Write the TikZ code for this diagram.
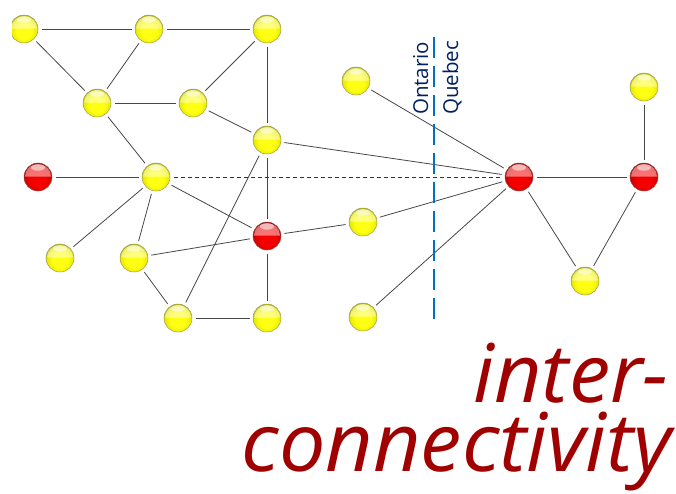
\documentclass[tikz,border=0pt]{standalone}
\usepackage{fontspec}
\setmainfont{Open Sans}
\definecolor{ydk}{RGB}{170,170,0}
\definecolor{ymid}{RGB}{235,235,0}
\definecolor{ybr}{RGB}{255,255,20}
\definecolor{ybord}{RGB}{160,160,90}
\definecolor{rdk}{RGB}{145,0,0}
\definecolor{rmid}{RGB}{212,0,0}
\definecolor{rbr}{RGB}{245,0,0}
\definecolor{rbord}{RGB}{150,80,80}
\definecolor{borderblue}{RGB}{0,112,192}
\definecolor{navy}{RGB}{0,32,96}
\definecolor{dred}{RGB}{160,0,0}
\pgfdeclareradialshading{yballsh}{\pgfpoint{0bp}{-5bp}}{color(0bp)=(ybr);color(14bp)=(ybr);color(23bp)=(ymid);color(28bp)=(ydk);color(50bp)=(ydk)}
\pgfdeclareradialshading{rballsh}{\pgfpoint{0bp}{-5bp}}{color(0bp)=(rbr);color(14bp)=(rbr);color(23bp)=(rmid);color(28bp)=(rdk);color(50bp)=(rdk)}
\tikzset{
  gloss/.style={path picture={
    \begin{scope}[x=1pt,y=1pt,shift={(path picture bounding box.center)}]
      \fill[white, fill opacity=0.45] (-13,0.5) arc[start angle=180, end angle=0, x radius=13, y radius=12.5] -- cycle;
      \fill[white, fill opacity=0.5] (0,9.5) ellipse[x radius=7, y radius=3.2];
    \end{scope}}},
  ball/.style={circle, minimum size=28pt, inner sep=0pt, line width=0.5pt, outer sep=3.5pt, gloss},
  yball/.style={ball, shading=yballsh, draw=ybord},
  rball/.style={ball, shading=rballsh, draw=rbord},
  conn/.style={draw=black!72, line width=0.8pt},
  dconn/.style={draw=black!80, line width=0.8pt, dash pattern=on 4pt off 3pt},
  border/.style={draw=borderblue, line width=2.4pt, dash pattern=on 21pt off 8pt},
  prov/.style={text=navy, font=\fontsize{20.5}{20.5}\selectfont, rotate=90, anchor=base west, inner sep=0pt},
  bigtext/.style={text=dred, font=\fontsize{81}{81}\selectfont\itshape, anchor=base east, inner sep=0pt, xscale=1.02}
}
\begin{document}
\begin{tikzpicture}[x=1pt,y=-1pt]
\useasboundingbox (0,0) rectangle (676,493);
\begin{scope}
\clip (12,0) rectangle (676,493);
\node[yball] (A) at (24,29) {};
\node[yball] (B) at (149,29) {};
\node[yball] (C) at (267,29) {};
\node[yball] (D) at (97,103) {};
\node[yball] (E) at (193,103) {};
\node[yball] (F) at (267,140) {};
\node[rball] (G) at (38,177) {};
\node[yball] (H) at (156,177) {};
\node[yball] (I) at (60,258) {};
\node[yball] (J) at (134,258) {};
\node[rball] (K) at (267,236) {};
\node[yball] (L) at (178,318) {};
\node[yball] (M) at (267,318) {};
\node[yball] (N) at (356,81) {};
\node[yball] (O) at (363,222) {};
\node[yball] (P) at (363,317) {};
\node[rball] (Q) at (519,177) {};
\node[rball] (R) at (644,177) {};
\node[yball] (S) at (644,87) {};
\node[yball] (T) at (585,281) {};
\end{scope}
\path[conn] (A) -- (B);
\path[conn] (B) -- (C);
\path[conn] (A) -- (D);
\path[conn] (B) -- (D);
\path[conn] (D) -- (E);
\path[conn] (C) -- (E);
\path[conn] (E) -- (F);
\path[conn] (C) -- (F);
\path[conn] (D) -- (H);
\path[conn] (G) -- (H);
\path[dconn] (H) -- (Q);
\path[conn] (H) -- (I);
\path[conn] (H) -- (J);
\path[conn] (H) -- (K);
\path[conn] (F) -- (Q);
\path[conn] (F) -- (K);
\path[conn] (F) -- (L);
\path[conn] (J) -- (K);
\path[conn] (J) -- (L);
\path[conn] (L) -- (M);
\path[conn] (K) -- (M);
\path[conn] (K) -- (O);
\path[conn] (O) -- (Q);
\path[conn] (N) -- (Q);
\path[conn] (P) -- (Q);
\path[conn] (Q) -- (R);
\path[conn] (R) -- (S);
\path[conn] (Q) -- (T);
\path[conn] (R) -- (T);
\coordinate (bt) at (434,37);
\coordinate (bb) at (434,323);
\path[border] (bt) -- (bb);
\node[prov] (ont) at (428,115) {Ontario};
\node[prov] (que) at (458,115) {Quebec};
\node[bigtext] (t1) at (669,402) {inter-};
\node[bigtext] (t2) at (672,471) {connectivity};
\end{tikzpicture}
\end{document}
